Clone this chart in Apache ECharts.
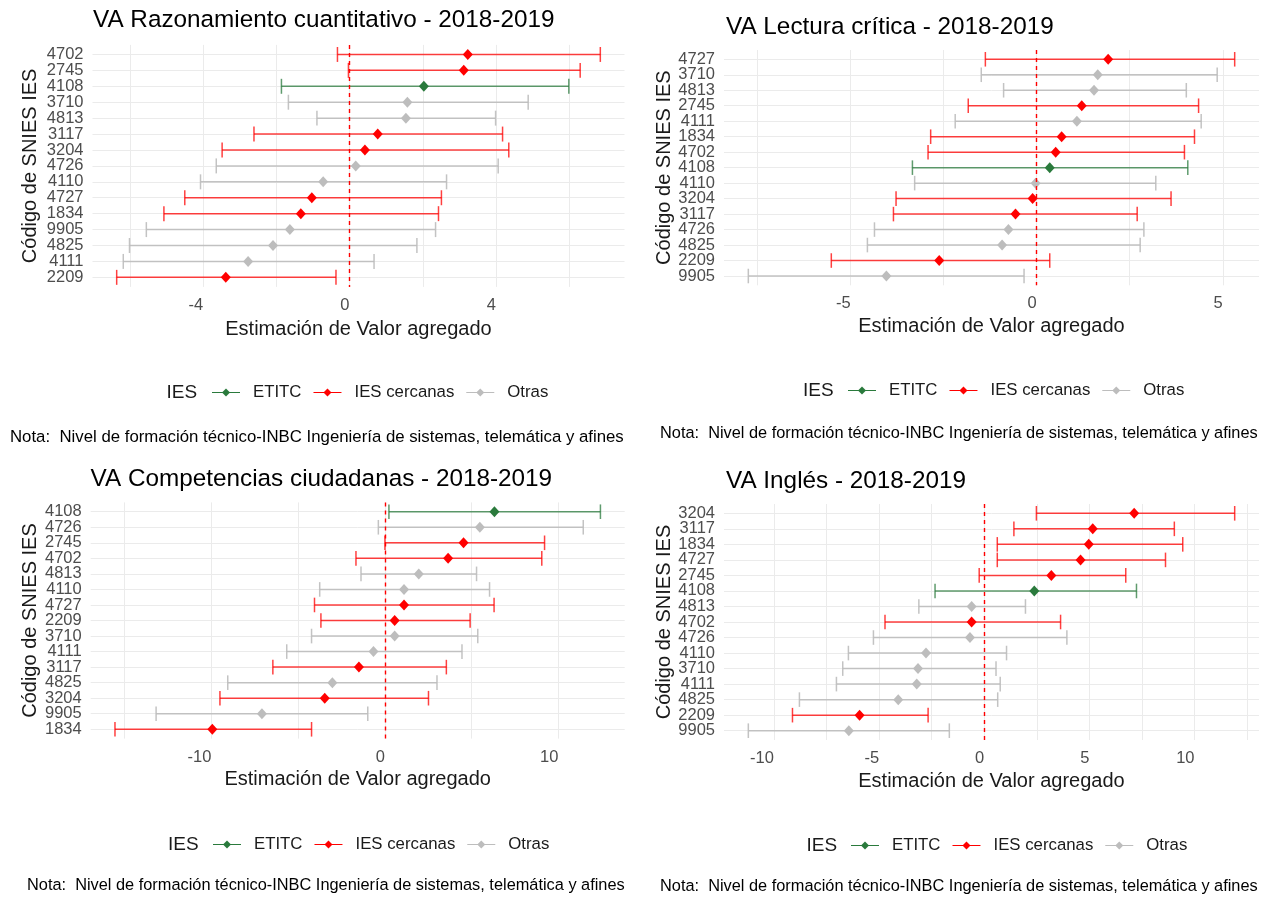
<!DOCTYPE html>
<html>
<head>
<meta charset="utf-8">
<script src="https://cdn.jsdelivr.net/npm/echarts@6/dist/echarts.min.js"></script>
<style>
html,body{margin:0;padding:0;background:#fff;}
#c{width:1271px;height:898px;}
</style>
</head>
<body>
<div id="c"></div>
<script>
// ---------- DATA ----------
const titles = ['VA Razonamiento cuantitativo - 2018-2019', 'VA Lectura crítica - 2018-2019',
                'VA Competencias ciudadanas - 2018-2019', 'VA Inglés - 2018-2019'];
const groupNames = ['ETITC', 'IES cercanas', 'Otras'];
const etitcCodes = ['4108'];
const cercanasCodes = ['4702', '2745', '3117', '3204', '4727', '1834', '2209'];

const cats1 = ['4702','2745','4108','3710','4813','3117','3204','4726','4110','4727','1834','9905','4825','4111','2209'];
const est1 = [3.23,3.12,2.03,1.58,1.54,0.77,0.42,0.17,-0.72,-1.03,-1.33,-1.63,-2.09,-2.77,-3.38];
const lo1  = [-0.33,-0.03,-1.86,-1.67,-0.89,-2.61,-3.48,-3.64,-4.07,-4.50,-5.07,-5.55,-6.01,-6.18,-6.36];
const hi1  = [6.85,6.30,5.99,4.88,3.99,4.18,4.35,4.06,2.65,2.51,2.43,2.35,1.84,0.67,-0.37];

const cats2 = ['4727','3710','4813','2745','4111','1834','4702','4108','4110','3204','3117','4726','4825','2209','9905'];
const est2 = [1.92,1.64,1.54,1.21,1.08,0.67,0.51,0.35,-0.03,-0.11,-0.57,-0.76,-0.93,-2.62,-4.04];
const lo2  = [-1.38,-1.49,-0.89,-1.84,-2.19,-2.85,-2.92,-3.34,-3.28,-3.78,-3.85,-4.36,-4.55,-5.52,-7.75];
const hi2  = [5.32,4.85,4.02,4.35,4.42,4.24,3.97,4.06,3.20,3.61,2.70,2.88,2.78,0.35,-0.34];

const cats3 = ['4108','4726','2745','4702','4813','4110','4727','2209','3710','4111','3117','4825','3204','9905','1834'];
const est3 = [6.31,5.47,4.53,3.64,1.95,1.10,1.10,0.56,0.56,-0.66,-1.50,-3.03,-3.47,-7.09,-9.95];
const lo3  = [0.23,-0.38,0.00,-1.67,-1.38,-3.76,-4.06,-3.69,-4.23,-5.66,-6.46,-9.06,-9.51,-13.19,-15.56];
const hi3  = [12.42,11.43,9.20,9.04,5.28,6.03,6.29,4.91,5.35,4.44,3.54,3.00,2.51,-0.99,-4.23];

const cats4 = ['3204','3117','1834','4727','2745','4108','4813','4702','4726','4110','3710','4111','4825','2209','9905'];
const est4 = [7.13,5.16,4.97,4.58,3.19,2.38,-0.60,-0.60,-0.68,-2.77,-3.15,-3.21,-4.09,-5.93,-6.44];
const lo4  = [2.48,1.41,0.62,0.62,-0.24,-2.34,-3.11,-4.72,-5.27,-6.46,-6.73,-7.03,-8.79,-9.12,-11.22];
const hi4  = [11.91,9.04,9.44,8.62,6.73,7.24,1.96,3.63,3.93,1.06,0.56,0.76,0.64,-2.67,-1.66];

const gridTicks1 = [-6,-4,-2,0,2,4,6];               const tickLabels1 = [-4,0,4];
const gridTicks2 = [-7.5,-5,-2.5,0,2.5,5];           const tickLabels2 = [-5,0,5];
const gridTicks3 = [-15,-10,-5,0,5,10];              const tickLabels3 = [-10,0,10];
const gridTicks4 = [-10,-7.5,-5,-2.5,0,2.5,5,7.5,10,12.5]; const tickLabels4 = [-10,-5,0,5,10];

const refLine = 0;
const xTitle = 'Estimación de Valor agregado';
const yTitle = 'Código de SNIES IES';
const legendTitle = 'IES';
const note = 'Nota:  Nivel de formación técnico-INBC Ingeniería de sistemas, telemática y afines';

// ---------- STYLE / LAYOUT ----------
const FONT = '"Liberation Sans", Arial, sans-serif';
const pointColors = {'ETITC': '#2a7a3c', 'IES cercanas': '#ff0000', 'Otras': '#bdbdbd'};
const lineOpacity = {'ETITC': 0.75, 'IES cercanas': 0.75, 'Otras': 0.9};
const PAD_ROWS = 0.6; // discrete-axis expansion (rows)

const layouts = [
  {grid:{left:92.5, top:44.9, width:532, height:242},   title:{left:93, top:8.5},   note:{left:10, top:428.5, size:16.8}, ies:{left:166.5, top:383}, legend:{left:212, top:384}, yGap:52, xGap:33},
  {grid:{left:724, top:50, width:535, height:235.3},    title:{left:726, top:15.5}, note:{left:660, top:425.5, size:16.35}, ies:{left:803, top:381}, legend:{left:848, top:382}, yGap:49.5, xGap:31},
  {grid:{left:90.7, top:502.4, width:534, height:236.2}, title:{left:90.6, top:467}, note:{left:27, top:877.5, size:16.35}, ies:{left:168, top:835}, legend:{left:213, top:836}, yGap:50, xGap:31},
  {grid:{left:724, top:504, width:535, height:236},     title:{left:726, top:469.5}, note:{left:660, top:878.5, size:16.35}, ies:{left:806.5, top:836}, legend:{left:851, top:837}, yGap:50, xGap:31}
];

const panels = [
  {cats:cats1, est:est1, lo:lo1, hi:hi1, gt:gridTicks1, tl:tickLabels1},
  {cats:cats2, est:est2, lo:lo2, hi:hi2, gt:gridTicks2, tl:tickLabels2},
  {cats:cats3, est:est3, lo:lo3, hi:hi3, gt:gridTicks3, tl:tickLabels3},
  {cats:cats4, est:est4, lo:lo4, hi:hi4, gt:gridTicks4, tl:tickLabels4}
];

function groupOf(code) {
  if (etitcCodes.indexOf(code) >= 0) return 'ETITC';
  if (cercanasCodes.indexOf(code) >= 0) return 'IES cercanas';
  return 'Otras';
}

function renderErrorBar(params, api) {
  const yv = api.value(1);
  const a = api.coord([api.value(0), yv]);
  const b = api.coord([api.value(2), yv]);
  const h = api.size([0, 1])[1] * 0.47;
  const color = api.visual('color');
  const op = lineOpacity[params.seriesName];
  const st = {stroke: color, lineWidth: 1.5, opacity: op, fill: null};
  return {
    type: 'group',
    children: [
      {type: 'line', shape: {x1: a[0], y1: a[1], x2: b[0], y2: b[1]}, style: st},
      {type: 'line', shape: {x1: a[0], y1: a[1] - h, x2: a[0], y2: a[1] + h}, style: st},
      {type: 'line', shape: {x1: b[0], y1: b[1] - h, x2: b[0], y2: b[1] + h}, style: st}
    ]
  };
}

const legendIcon = 'path://M0,3.4L28,3.4L28,4.6L0,4.6Z M10,4L14,0L18,4L14,8Z';

const option = {
  backgroundColor: '#ffffff',
  animation: false,
  textStyle: {fontFamily: FONT},
  grid: [], xAxis: [], yAxis: [], series: [], title: [], legend: []
};

panels.forEach(function (p, i) {
  const L = layouts[i];
  const n = p.cats.length;
  const dMin = Math.min.apply(null, p.lo), dMax = Math.max.apply(null, p.hi);
  const pad = (dMax - dMin) * 0.05;

  option.grid.push(Object.assign({containLabel: false}, L.grid));

  option.xAxis.push({
    type: 'value', gridIndex: i, min: dMin - pad, max: dMax + pad,
    name: xTitle, nameLocation: 'middle', nameGap: L.xGap,
    nameTextStyle: {fontSize: 20, color: '#1a1a1a', fontFamily: FONT},
    axisLine: {show: false},
    axisTick: {show: false, customValues: p.gt},
    axisLabel: {customValues: p.tl, fontSize: 16.5, color: '#4d4d4d', margin: 10, align: 'right',
      showMinLabel: true, showMaxLabel: true, fontFamily: FONT},
    splitLine: {show: true, lineStyle: {color: '#ebebeb', width: 1}}
  });

  const yMin = -PAD_ROWS, yMax = n - 1 + PAD_ROWS;
  const idx = p.cats.map(function (_, k) { return k; });
  // blank edge labels absorb the min/max label overlap check
  const labelVals = [yMin].concat(idx, [yMax]);
  option.yAxis.push({
    type: 'value', gridIndex: i, inverse: true, min: yMin, max: yMax,
    name: yTitle, nameLocation: 'middle', nameGap: L.yGap, nameRotate: 90,
    nameTextStyle: {fontSize: 20, color: '#1a1a1a', fontFamily: FONT},
    axisLine: {show: false},
    axisTick: {show: false, customValues: idx},
    axisLabel: {customValues: labelVals, fontSize: 16.5, color: '#4d4d4d', margin: 9, fontFamily: FONT,
      showMinLabel: false, showMaxLabel: false,
      formatter: function (v) {
        const k = Math.round(v);
        return (Math.abs(v - k) < 1e-6 && k >= 0 && k < n) ? p.cats[k] : '';
      }},
    splitLine: {show: true, lineStyle: {color: '#ebebeb', width: 1}}
  });

  groupNames.forEach(function (g) {
    const bars = [], pts = [];
    p.cats.forEach(function (c, k) {
      if (groupOf(c) === g) {
        bars.push([p.lo[k], k, p.hi[k]]);
        pts.push([p.est[k], k]);
      }
    });
    option.series.push({
      type: 'custom', name: g, xAxisIndex: i, yAxisIndex: i,
      itemStyle: {color: pointColors[g]},
      renderItem: renderErrorBar, encode: {x: [0, 2], y: 1},
      data: bars, silent: true, z: 2
    });
    const s = {
      type: 'scatter', name: g, xAxisIndex: i, yAxisIndex: i,
      symbol: 'diamond', symbolSize: [10, 11],
      itemStyle: {color: pointColors[g], opacity: 1},
      data: pts, silent: true, z: 3
    };
    if (g === 'IES cercanas') {
      s.markLine = {
        silent: true, symbol: ['none', 'none'], label: {show: false},
        lineStyle: {color: '#ff0000', type: [4, 4], width: 1.4, opacity: 1},
        data: [{xAxis: refLine}], z: 4
      };
    }
    option.series.push(s);
  });

  option.title.push({text: titles[i], left: L.title.left, top: L.title.top, padding: 0,
    textStyle: {fontSize: 24.3, fontWeight: 'normal', color: '#000', fontFamily: FONT}});
  option.title.push({text: note, left: L.note.left, top: L.note.top, padding: 0,
    textStyle: {fontSize: L.note.size, fontWeight: 'normal', color: '#000', fontFamily: FONT}});
  option.title.push({text: legendTitle, left: L.ies.left, top: L.ies.top, padding: 0,
    textStyle: {fontSize: 19, fontWeight: 'normal', color: '#1a1a1a', fontFamily: FONT}});

  option.legend.push({
    left: L.legend.left, top: L.legend.top, padding: 0, orient: 'horizontal',
    itemWidth: 28, itemHeight: 8, itemGap: 12, selectedMode: false,
    icon: legendIcon,
    textStyle: {fontSize: 16.8, color: '#1a1a1a', padding: [0, 0, 0, 8], fontFamily: FONT},
    data: groupNames.map(function (g) { return {name: g, icon: legendIcon, itemStyle: {color: pointColors[g], opacity: 1}}; })
  });
});

const chart = echarts.init(document.getElementById('c'), null, {renderer: 'canvas'});
chart.setOption(option);
</script>
</body>
</html>
